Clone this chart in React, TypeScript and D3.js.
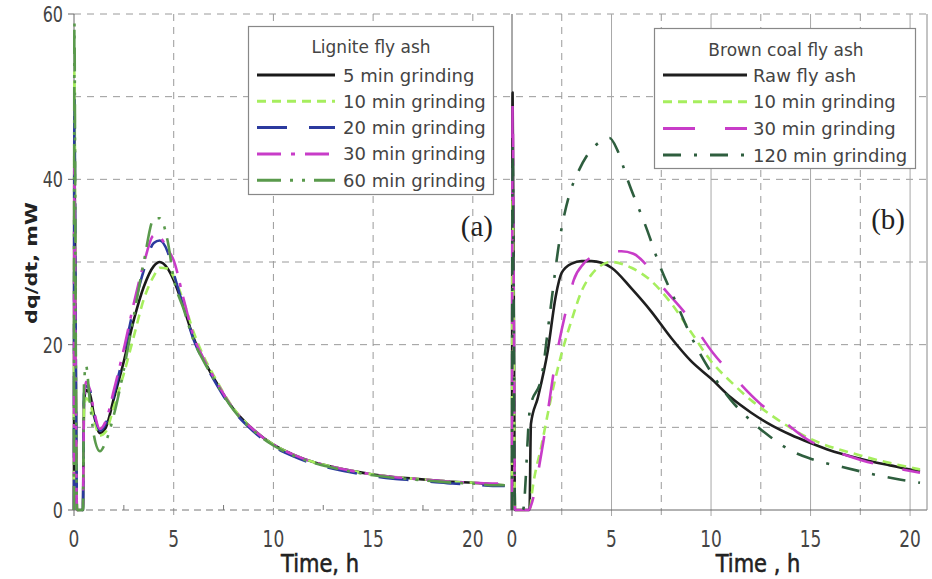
import React from 'react';
import * as d3 from 'd3';

// ---------- data ----------
const yTicks = [0, 20, 40, 60];
const yGrid = [10, 20, 30, 40, 50, 60];
const xTicksA = [0, 5, 10, 15, 20];
const xMinorA = [2.5, 7.5, 12.5, 17.5];
const xTicksB = [0, 5, 10, 15, 20];
const xMinorB = [2.5, 7.5, 12.5, 17.5];

// Panel (a) – Lignite fly ash, common time grid (h)
const timeA = [0, 0.02, 0.08, 0.15, 0.45, 0.5, 0.6, 0.8, 1.0, 1.3, 1.6, 2.0, 2.5, 3.0, 3.5, 4.0, 4.3, 4.7, 5.0, 5.5, 6.0, 6.5, 7, 8, 9, 10, 11, 12, 13, 14, 15, 16, 17, 18, 19, 20, 21, 21.6];
const lig5 = [0, 46, 20, 0, 0, 13, 14.5, 14, 11.5, 9.3, 10, 13.5, 18, 23, 27, 29.5, 30, 29.2, 27.8, 24.5, 20.8, 18.2, 16, 12.2, 9.7, 7.9, 6.7, 5.8, 5.2, 4.7, 4.3, 4.0, 3.8, 3.6, 3.4, 3.3, 3.1, 3.0];
const lig10 = [0, 53, 22, 0, 0, 12, 13.5, 13, 11, 9, 9.5, 12.5, 16.5, 21, 25.5, 28.3, 29.3, 29.2, 28.2, 25.2, 21.5, 18.6, 16.3, 12.3, 9.7, 7.9, 6.7, 5.8, 5.2, 4.7, 4.3, 4.0, 3.8, 3.6, 3.4, 3.3, 3.1, 3.0];
const lig20 = [0, 50, 24, 0, 0, 14, 15, 14.5, 11.8, 9.6, 10.5, 14, 19, 24.5, 29, 32.3, 32.6, 31.2, 28.6, 24.5, 20.6, 18, 15.8, 12, 9.5, 7.7, 6.5, 5.6, 5.0, 4.5, 4.1, 3.8, 3.6, 3.4, 3.2, 3.1, 2.9, 2.9];
const lig30 = [0, 42, 18, 0, 0, 13, 15.5, 14.5, 12, 9.8, 10.8, 14.5, 19.5, 25, 29.8, 33.2, 33, 31.5, 30.2, 25.5, 21, 18.3, 16.1, 12.2, 9.7, 7.9, 6.7, 5.8, 5.2, 4.7, 4.3, 4.0, 3.8, 3.6, 3.4, 3.3, 3.2, 3.2];
const lig60 = [0, 59, 25, 0, 0, 15, 17.5, 13, 9, 7.1, 8.3, 11.5, 17, 23.5, 30, 35.2, 35.3, 32.5, 28, 24.3, 20.5, 18, 15.9, 12.1, 9.6, 7.8, 6.6, 5.7, 5.1, 4.6, 4.2, 3.9, 3.7, 3.5, 3.3, 3.2, 3.0, 3.0];
const ligLabels = ['5 min grinding', '10 min grinding', '20 min grinding', '30 min grinding', '60 min grinding'];

// Panel (b) – Brown coal fly ash
const timeRaw = [0, 0.03, 0.1, 0.15, 0.88, 0.95, 1.3, 1.8, 2.2, 2.5, 3.0, 3.5, 4.0, 4.5, 5.0, 6, 7, 8, 9, 10, 11, 12, 13, 14, 15, 16, 17, 18, 19, 20, 20.5];
const brRaw = [0, 50.5, 20, 0, 0, 10.4, 13.6, 19.3, 25.9, 28.7, 29.8, 30.1, 30.1, 29.9, 29.3, 26.8, 24, 20.8, 18, 15.9, 13.6, 11.8, 10.3, 9.1, 8.1, 7.2, 6.5, 5.9, 5.4, 4.9, 4.7];
const time10 = [0, 0.03, 0.1, 0.15, 0.9, 1.0, 1.5, 2.0, 2.5, 3.0, 3.5, 4.0, 5.0, 6, 7, 8, 9, 10, 11, 12, 13, 15, 17.5, 20.5];
const br10 = [0, 38, 15, 0, 0, 2, 8, 14, 19, 23, 26.5, 28.5, 30, 29.3, 27.7, 25, 21.5, 18, 15.5, 13.3, 11.5, 8.6, 6.6, 4.9];
const time30 = [0, 0.03, 0.1, 0.15, 0.85, 0.95, 1.5, 2.2, 2.8, 3.1, 3.6, 4.4, 4.8, 5.5, 6.1, 6.8, 7.4, 8.8, 10.1, 11, 12.5, 13.5, 15, 16, 17.6, 19, 20.5];
const br30 = [0, 49, 20, 0, 0, 0.5, 7.2, 18.2, 25, 27.8, 29.8, 31, 31.3, 31.3, 31, 29.5, 27.5, 23.5, 19, 16.5, 12.8, 11, 8.3, 7.3, 6.0, 5.2, 4.5];
const time120 = [0, 0.03, 0.1, 0.15, 0.55, 0.9, 1.5, 1.9, 2.4, 2.9, 3.25, 3.8, 4.4, 4.9, 5.3, 5.8, 6.8, 7.4, 8.3, 9, 10.1, 11, 12, 13, 14, 15, 16.6, 18, 19.2, 20.5];
const br120 = [0, 44, 18, 0, 0, 12.2, 16.3, 23.7, 32.8, 38.3, 40.5, 43, 44.5, 45, 43.5, 40, 33.8, 29.7, 24.8, 21, 16.3, 13.3, 10.8, 8.8, 7.2, 6.2, 5.2, 4.4, 3.8, 3.3];
const brLabels = ['Raw fly ash', '10 min grinding', '30 min grinding', '120 min grinding'];

// ---------- styles ----------
const ligStyles = [
  { color: '#1a1a1a', dash: 'none' },
  { color: '#a6ee5e', dash: '9,6' },
  { color: '#2b3a9e', dash: '30,22' },
  { color: '#c83cc8', dash: '24,10,4,10' },
  { color: '#5a9a4c', dash: '24,9,3,9,3,9' },
];
const brStyles = [
  { color: '#1f1f1f', dash: 'none' },
  { color: '#a6ee5e', dash: '9,6' },
  { color: '#c83cc8', dash: '32,30' },
  { color: '#2e5e3e', dash: '18,13,3,13' },
];

const SANS = "'DejaVu Sans', Verdana, sans-serif";
const SERIF = "'Liberation Serif', 'DejaVu Serif', serif";

export default function App() {
  const xa = d3.scaleLinear().domain([0, 22]).range([74, 512.7]);
  const xb = d3.scaleLinear().domain([0, 20.85]).range([512, 927]);
  const y = d3.scaleLinear().domain([0, 60]).range([510, 14]);

  const mk = (xs: d3.ScaleLinear<number, number>) =>
    d3.line<[number, number]>().x((d) => xs(d[0])).y((d) => y(d[1])).curve(d3.curveMonotoneX);
  const lineA = mk(xa);
  const lineB = mk(xb);
  const zip = (t: number[], v: number[]) => t.map((tt, i) => [tt, v[i]] as [number, number]);

  const ligSeries = [lig5, lig10, lig20, lig30, lig60].map((v) => zip(timeA, v));
  const brSeries = [zip(timeRaw, brRaw), zip(time10, br10), zip(time30, br30), zip(time120, br120)];

  const y0 = y(0);
  const yTop = y(60);
  const gridCol = '#9a9a9a';

  return (
    <svg width={932} height={579} style={{ position: 'absolute', left: 0, top: 0, background: '#fff' }}>
      {/* horizontal grid */}
      {yGrid.map((g) => (
        <line key={'hg' + g} x1={xa(0)} x2={xb(20.85)} y1={y(g)} y2={y(g)} stroke={gridCol} strokeWidth={1} strokeDasharray="7,6" />
      ))}
      {/* panel a vertical grid */}
      {xTicksA.filter((t) => t > 0).map((t) => (
        <line key={'va' + t} x1={xa(t)} x2={xa(t)} y1={yTop} y2={y0 + 6} stroke={gridCol} strokeDasharray="7,6" />
      ))}
      {xMinorA.map((t) => (
        <line key={'ma' + t} x1={xa(t)} x2={xa(t)} y1={y0 - 5} y2={y0} stroke="#777" />
      ))}
      {/* panel a bottom (dashed) */}
      <line x1={xa(0)} x2={xb(0)} y1={y0} y2={y0} stroke="#777" strokeDasharray="7,5" />
      {/* panel b vertical grid */}
      {xMinorB.map((t) => (
        <line key={'vbm' + t} x1={xb(t)} x2={xb(t)} y1={yTop} y2={y0 + 6} stroke={gridCol} strokeDasharray="7,6" />
      ))}
      {xTicksB.filter((t) => t > 0).map((t) => (
        <line key={'vb' + t} x1={xb(t)} x2={xb(t)} y1={yTop} y2={y0 + 6} stroke="#a8a8a8" />
      ))}
      {/* panel b bottom + right border */}
      <line x1={xb(0)} x2={xb(20.85)} y1={y0} y2={y0} stroke="#666" />
      <line x1={xb(20.85)} x2={xb(20.85)} y1={yTop} y2={y0} stroke="#888" />
      {/* axes */}
      <line x1={xa(0)} x2={xa(0)} y1={yTop} y2={y0} stroke="#666" />
      <line x1={xb(0)} x2={xb(0)} y1={yTop} y2={y0 + 6} stroke="#555" />
      {yTicks.map((t) => (
        <line key={'yt' + t} x1={xa(0) - 6} x2={xa(0)} y1={y(t)} y2={y(t)} stroke="#666" />
      ))}
      <line x1={xa(0)} x2={xa(0)} y1={y0} y2={y0 + 6} stroke="#666" />

      {/* curves */}
      {ligSeries.map((s, i) => (
        <path key={'la' + i} d={lineA(s) || ''} fill="none" stroke={ligStyles[i].color} strokeWidth={2.6}
          strokeDasharray={ligStyles[i].dash} strokeLinejoin="round" />
      ))}
      {brSeries.map((s, i) => (
        <path key={'lb' + i} d={lineB(s) || ''} fill="none" stroke={brStyles[i].color} strokeWidth={2.6}
          strokeDasharray={brStyles[i].dash} strokeLinejoin="round" />
      ))}

      {/* tick labels */}
      {yTicks.map((t) => (
        <text key={'yl' + t} transform={`translate(63,${y(t) + 8}) scale(1,1.3)`} textAnchor="end"
          fontFamily={SANS} fontSize={16} fill="#444">{t}</text>
      ))}
      {xTicksA.map((t) => (
        <text key={'xla' + t} transform={`translate(${xa(t)},547) scale(1,1.3)`} textAnchor="middle"
          fontFamily={SANS} fontSize={17} fill="#444">{t}</text>
      ))}
      {xTicksB.map((t) => (
        <text key={'xlb' + t} transform={`translate(${xb(t)},547) scale(1,1.3)`} textAnchor="middle"
          fontFamily={SANS} fontSize={17} fill="#444">{t}</text>
      ))}
      {/* axis titles */}
      <text transform="translate(320,572) scale(1,1.2)" textAnchor="middle" fontFamily={SANS} fontSize={21}
        fill="#222" stroke="#222" strokeWidth={0.5}>Time, h</text>
      <text transform="translate(758,572) scale(1,1.2)" textAnchor="middle" fontFamily={SANS} fontSize={21}
        fill="#222" stroke="#222" strokeWidth={0.5}>Time , h</text>
      <text transform="translate(37,263) rotate(-90) scale(1.3,1)" textAnchor="middle" fontFamily={SANS}
        fontSize={16} fontWeight="bold" fill="#222">dq/dt, mW</text>

      {/* panel labels */}
      <text x={493} y={236} textAnchor="end" fontFamily={SERIF} fontSize={29} fill="#222">(a)</text>
      <text x={905} y={229} textAnchor="end" fontFamily={SERIF} fontSize={29} fill="#222">(b)</text>

      {/* legend a */}
      <g>
        <rect x={248.5} y={26.5} width={245} height={168} fill="#fff" stroke="#888" strokeWidth={1.2} />
        <text x={371} y={53} textAnchor="middle" fontFamily={SANS} fontSize={17} fill="#444">Lignite fly ash</text>
        {ligLabels.map((lab, i) => {
          const cy = 75 + i * 26.3;
          return (
            <g key={'lga' + i}>
              <line x1={257} x2={335} y1={cy} y2={cy} stroke={ligStyles[i].color} strokeWidth={3}
                strokeDasharray={ligStyles[i].dash} />
              <text x={343} y={cy + 6.5} fontFamily={SANS} fontSize={18} fill="#444">{lab}</text>
            </g>
          );
        })}
      </g>
      {/* legend b */}
      <g>
        <rect x={654.5} y={28.5} width={261} height={140} fill="#fff" stroke="#888" strokeWidth={1.2} />
        <text x={786} y={56} textAnchor="middle" fontFamily={SANS} fontSize={17} fill="#444">Brown coal fly ash</text>
        {brLabels.map((lab, i) => {
          const cy = 75 + i * 26.7;
          return (
            <g key={'lgb' + i}>
              <line x1={663} x2={747} y1={cy} y2={cy} stroke={brStyles[i].color} strokeWidth={3}
                strokeDasharray={brStyles[i].dash} />
              <text x={753} y={cy + 6.5} fontFamily={SANS} fontSize={18} fill="#444">{lab}</text>
            </g>
          );
        })}
      </g>
    </svg>
  );
}
